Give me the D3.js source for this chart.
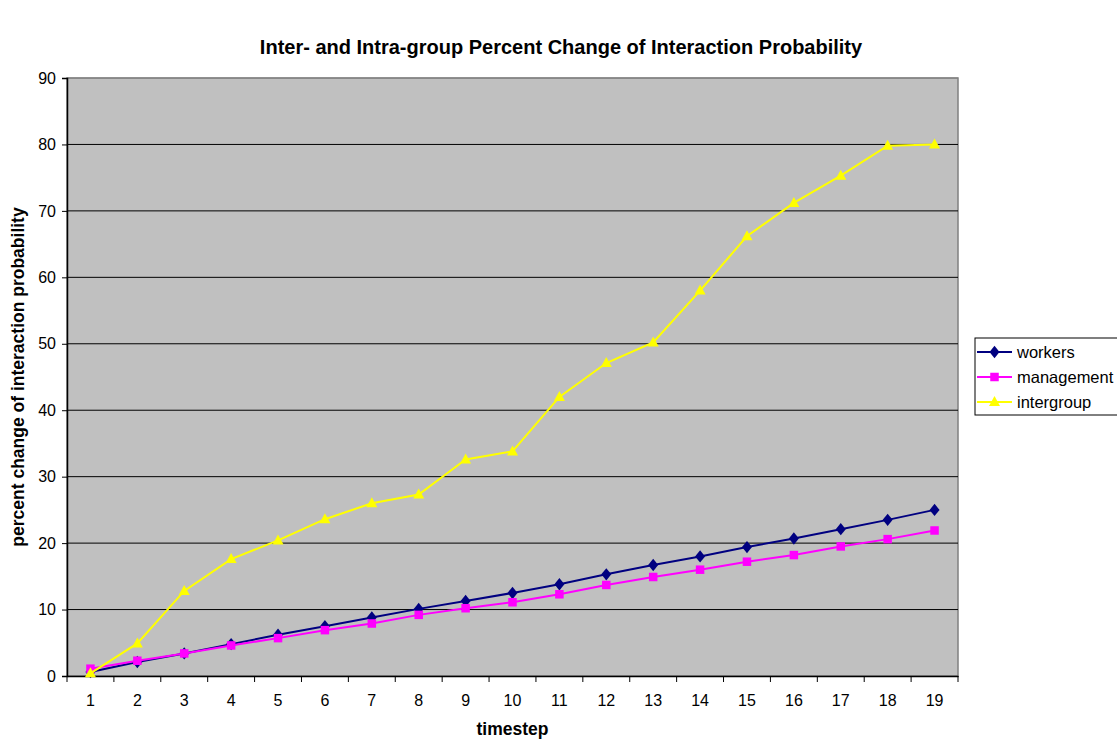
<!DOCTYPE html>
<html><head><meta charset="utf-8">
<script src="https://cdn.jsdelivr.net/npm/d3@7"></script>
<style>body{margin:0;background:#fff;} svg{display:block;font-family:"Liberation Sans",Arial,sans-serif;}</style>
</head><body>
<svg id="c" width="1117" height="740"></svg>
<script>
const timesteps = [1,2,3,4,5,6,7,8,9,10,11,12,13,14,15,16,17,18,19];
const workers = [0.6,2.1,3.4,4.8,6.2,7.5,8.8,10.1,11.3,12.5,13.8,15.3,16.7,18.0,19.4,20.7,22.1,23.5,25.0];
const management = [1.1,2.3,3.4,4.6,5.7,6.9,7.9,9.2,10.2,11.1,12.3,13.7,14.9,16.0,17.2,18.2,19.5,20.6,21.9];
const intergroup = [0.4,4.9,12.8,17.6,20.4,23.6,26.0,27.3,32.6,33.8,42.0,47.1,50.2,58.0,66.2,71.2,75.3,79.8,80.0];
const yTicks = [0,10,20,30,40,50,60,70,80,90];
const seriesNames = ["workers","management","intergroup"];

const series = [
  {name: seriesNames[0], values: workers, color: "#000080", marker: "diamond"},
  {name: seriesNames[1], values: management, color: "#FF00FF", marker: "square"},
  {name: seriesNames[2], values: intergroup, color: "#FFFF00", marker: "triangle"}
];

const FF = "Liberation Sans, Arial, sans-serif";
const svg = d3.select("#c");
const L = 67, R = 958, T = 78, B = 676;

const x = d3.scaleBand().domain(timesteps).range([L, R]).paddingInner(0).paddingOuter(0);
const y = d3.scaleLinear().domain([0, 90]).range([B, T]);

svg.append("rect").attr("x", L).attr("y", T).attr("width", R - L).attr("height", B - T)
  .attr("fill", "#C0C0C0").attr("stroke", "#808080").attr("stroke-width", 1.5);

// gridlines
svg.append("g").selectAll("line").data(yTicks.filter(d => d > 0)).join("line")
  .attr("x1", L).attr("x2", R).attr("y1", d => y(d)).attr("y2", d => y(d))
  .attr("stroke", d => d === 90 ? "#808080" : "#000").attr("stroke-width", 1);

// y axis
const yAxis = svg.append("g").attr("transform", `translate(${L},0)`)
  .call(d3.axisLeft(y).tickValues(yTicks).tickSize(5).tickPadding(6));
yAxis.select(".domain").attr("stroke", "#000").attr("stroke-width", 1.5);
yAxis.selectAll(".tick line").attr("stroke", "#000");
yAxis.selectAll("text").attr("font-size", 16).attr("fill", "#000").attr("font-family", FF);

// x axis
const xAxis = svg.append("g").attr("transform", `translate(0,${B})`)
  .call(d3.axisBottom(x).tickSize(0).tickPadding(19));
xAxis.select(".domain").attr("stroke", "#000").attr("stroke-width", 1.5);
xAxis.selectAll("text").attr("font-size", 16).attr("fill", "#000").attr("font-family", FF);
// x tick marks at band boundaries
const bounds = timesteps.map(d => x(d)).concat([x(timesteps[timesteps.length-1]) + x.bandwidth()]);
svg.append("g").selectAll("line").data(bounds).join("line")
  .attr("x1", d => d).attr("x2", d => d).attr("y1", B).attr("y2", B + 6)
  .attr("stroke", "#000").attr("stroke-width", 1);

// lines & markers
const cx = d => x(d) + x.bandwidth() / 2;
const line = d3.line().x((v, i) => cx(timesteps[i])).y(v => y(v));

function drawMarker(g, type, color, px, py, s) {
  if (type === "diamond") {
    g.append("path").attr("d", `M${px},${py-s*0.62}L${px+s*0.5},${py}L${px},${py+s*0.62}L${px-s*0.5},${py}Z`).attr("fill", color);
  } else if (type === "square") {
    g.append("rect").attr("x", px - s/2).attr("y", py - s/2).attr("width", s).attr("height", s).attr("fill", color);
  } else {
    g.append("path").attr("d", `M${px},${py-s*0.6}L${px+s*0.55},${py+s*0.4}L${px-s*0.55},${py+s*0.4}Z`).attr("fill", color);
  }
}

series.forEach(s => {
  svg.append("path").datum(s.values).attr("d", line).attr("fill", "none")
    .attr("stroke", s.color).attr("stroke-width", 2);
  const g = svg.append("g");
  s.values.forEach((v, i) => drawMarker(g, s.marker, s.color, cx(timesteps[i]), y(v), s.marker === "square" ? 8.5 : 10));
});

// titles
svg.append("text").attr("x", 561).attr("y", 54).attr("text-anchor", "middle").attr("font-family", FF)
  .attr("font-size", 20).attr("font-weight", "bold").text("Inter- and Intra-group Percent Change of Interaction Probability");
svg.append("text").attr("x", (L + R) / 2).attr("y", 735).attr("text-anchor", "middle").attr("font-family", FF)
  .attr("font-size", 17.5).attr("font-weight", "bold").text("timestep");
svg.append("text").attr("transform", `translate(24,${(T + B) / 2}) rotate(-90)`).attr("text-anchor", "middle").attr("font-family", FF)
  .attr("font-size", 17.5).attr("font-weight", "bold").text("percent change of interaction probability");

// legend
const lg = svg.append("g");
lg.append("rect").attr("x", 975).attr("y", 338).attr("width", 150).attr("height", 77)
  .attr("fill", "#fff").attr("stroke", "#000").attr("stroke-width", 1);
series.forEach((s, i) => {
  const ly = 352 + i * 25;
  lg.append("line").attr("x1", 977).attr("x2", 1012).attr("y1", ly).attr("y2", ly)
    .attr("stroke", s.color).attr("stroke-width", 2);
  drawMarker(lg, s.marker, s.color, 994.5, ly, s.marker === "square" ? 8.5 : 10);
  lg.append("text").attr("x", 1017).attr("y", ly + 6).attr("font-family", FF).attr("font-size", 16.5).text(s.name);
});
</script>
</body></html>
